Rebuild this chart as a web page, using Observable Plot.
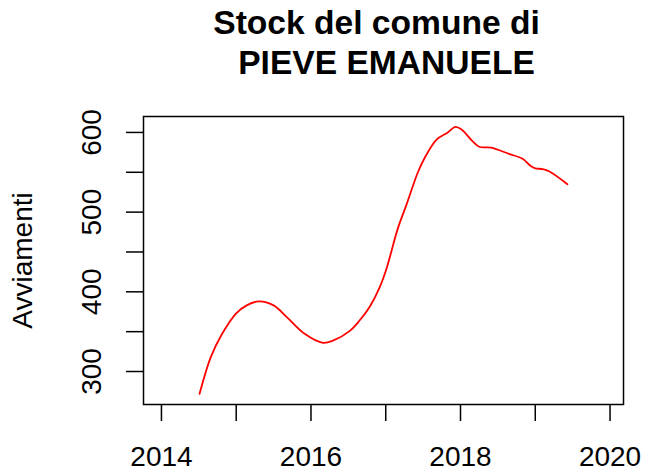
<!DOCTYPE html>
<html>
<head>
<meta charset="utf-8">
<script src="https://cdn.jsdelivr.net/npm/d3@7"></script>
<script src="https://cdn.jsdelivr.net/npm/@observablehq/plot@0.6"></script>
<style>
  html, body { margin: 0; padding: 0; background: #fff; }
  svg { display: block; }
</style>
</head>
<body>
<div id="chart"></div>
<script>
const years = [2014.51, 2014.66, 2014.81, 2015.00, 2015.14, 2015.30, 2015.50, 2015.68, 2015.92, 2016.16,
  2016.30, 2016.52, 2016.65, 2016.79, 2016.92, 2017.01, 2017.16, 2017.28, 2017.43, 2017.52,
  2017.68, 2017.83, 2017.93, 2018.01, 2018.16, 2018.25, 2018.41, 2018.65, 2018.83, 2018.94,
  2019.00, 2019.10, 2019.19, 2019.43];
const values = [272, 318, 347, 373, 383, 388, 383, 368, 347, 336,
  339, 351, 364, 382, 406, 429, 479, 510, 550, 568,
  591, 600, 607, 604, 589, 582, 581, 573, 567, 558,
  555, 554, 551, 535];
const xTicks = [2014, 2015, 2016, 2017, 2018, 2019, 2020];
const xLabels = [2014, 2016, 2018, 2020];
const yTicks = [300, 350, 400, 450, 500, 550, 600];
const yLabels = [300, 400, 500, 600];
const titleLines = ["Stock del comune di", "PIEVE EMANUELE"];
const yTitle = "Avviamenti";

const data = years.map((x, i) => ({x, y: values[i]}));
const font = "'Liberation Sans', Arial, Helvetica, sans-serif";

const chart = Plot.plot({
  width: 645,
  height: 471,
  marginLeft: 143,
  marginRight: 22,
  marginTop: 116,
  marginBottom: 67,
  style: {fontFamily: font, fontSize: "28px", color: "#000", background: "#fff"},
  x: {domain: [2013.76, 2020.18]},
  y: {domain: [258.6, 620]},
  marks: [
    Plot.frame({stroke: "#000", strokeWidth: 1.5}),
    Plot.axisX({ticks: xTicks, tickSize: 17, tickPadding: 25, strokeWidth: 1.5,
      tickFormat: d => xLabels.includes(d) ? String(d) : "", fontSize: 28, label: null}),
    Plot.axisY({ticks: yTicks, tickSize: 17, strokeWidth: 1.5, tickFormat: () => "", label: null}),
    Plot.text(yLabels, {y: d => d, text: d => String(d), frameAnchor: "left", dx: -51,
      rotate: -90, fontSize: 28, textAnchor: "middle", lineAnchor: "middle"}),
    Plot.text([yTitle], {frameAnchor: "left", dx: -120, rotate: -90, fontSize: 28,
      textAnchor: "middle", lineAnchor: "middle"}),
    Plot.text([titleLines[0]], {frameAnchor: "top", dx: -7, dy: -93, fontSize: 33.6,
      fontWeight: "bold", textAnchor: "middle", lineAnchor: "middle"}),
    Plot.text([titleLines[1]], {frameAnchor: "top", dx: 3, dy: -53, fontSize: 33.6,
      fontWeight: "bold", textAnchor: "middle", lineAnchor: "middle"}),
    Plot.line(data, {x: "x", y: "y", stroke: "red", strokeWidth: 1.8, curve: "catmull-rom"})
  ]
});
document.getElementById("chart").appendChild(chart);
</script>
</body>
</html>
